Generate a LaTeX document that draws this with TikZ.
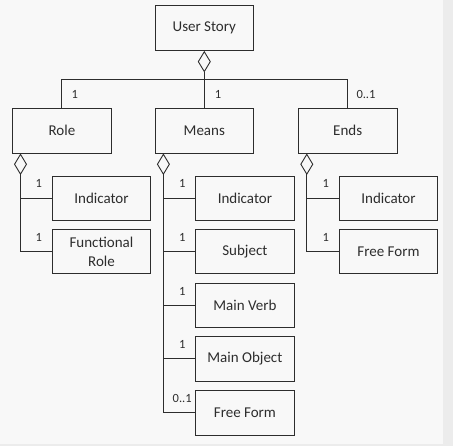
\documentclass[tikz,border=0pt]{standalone}
\usepackage{fontspec}
\setmainfont{Carlito}
\usetikzlibrary{arrows.meta}
\definecolor{umlline}{RGB}{45,45,45}
\definecolor{pagebg}{RGB}{248,248,248}
\definecolor{edgebg}{RGB}{236,236,236}

\begin{document}
\begin{tikzpicture}[x=1pt,y=1pt,yscale=-1,
  part/.style={draw=umlline,line width=0.9pt,minimum width=98.5pt,minimum height=44.5pt,align=center,text=umlline,inner sep=2pt,font=\fontsize{15}{18.5}\selectfont},
  link/.style={draw=umlline,line width=0.9pt},
  agg/.style={link,{Diamond[open,length=21.5pt,width=13pt]}-},
  mult/.style={text=umlline,inner sep=0pt,font=\fontsize{12.5}{14}\selectfont}]
%set diagram size 453 x 446, with the grey page edge
\useasboundingbox (0,0) rectangle (453,446);
\fill[edgebg] (0,0) rectangle (453,446);
\fill[pagebg] (0,0) rectangle (443.3,444);
% Top level
\node[part] (story) at (204.3,28.2) {User Story};
\node[part] (role) at (61.9,130.8) {Role};
\node[part] (means) at (204.3,130.8) {Means};
\node[part] (ends) at (347.7,130.8) {Ends};
\coordinate (bus) at (204.3,79.5);
\draw[agg] (story.south) -- (means.north);
\draw[link] (role.north) |- (bus) -| (ends.north);
\node[mult] at ([xshift=13,yshift=-13.5]role.north) {1};
\node[mult] at ([xshift=13.7,yshift=-13.5]means.north) {1};
\node[mult] at ([xshift=18.3,yshift=-13.5]ends.north) {0..1};
% Role parts
\node[part] (roleind) at (101.5,198.3) {Indicator};
\node[part] (rolefn) at (101.5,251.7) {Functional\\Role};
\coordinate (rolespine) at ([xshift=8.3]role.south west);
\draw[agg] (rolespine) |- (rolefn.west);
\draw[link] (roleind.west) -- (roleind.west -| rolespine);
\node[mult] at ([xshift=-13,yshift=-14.5]roleind.west) {1};
\node[mult] at ([xshift=-13,yshift=-14.5]rolefn.west) {1};
% Means parts
\node[part] (meansind) at (244.9,198.3) {Indicator};
\node[part] (meanssub) at (244.9,251.7) {Subject};
\node[part] (meansverb) at (244.9,305.5) {Main Verb};
\node[part] (meansobj) at (244.9,358.8) {Main Object};
\node[part] (meansfree) at (244.9,412.8) {Free Form};
\coordinate (meansspine) at ([xshift=8.8]means.south west);
\draw[agg] (meansspine) |- (meansfree.west);
\draw[link] (meansind.west) -- (meansind.west -| meansspine);
\draw[link] (meanssub.west) -- (meanssub.west -| meansspine);
\draw[link] (meansverb.west) -- (meansverb.west -| meansspine);
\draw[link] (meansobj.west) -- (meansobj.west -| meansspine);
\node[mult] at ([xshift=-13,yshift=-14.5]meansind.west) {1};
\node[mult] at ([xshift=-13,yshift=-14.5]meanssub.west) {1};
\node[mult] at ([xshift=-13,yshift=-14.5]meansverb.west) {1};
\node[mult] at ([xshift=-13,yshift=-14.5]meansobj.west) {1};
\node[mult] at ([xshift=-13,yshift=-14]meansfree.west) {0..1};
% Ends parts
\node[part] (endsind) at (388.5,198.3) {Indicator};
\node[part] (endsfree) at (388.5,251.7) {Free Form};
\coordinate (endsspine) at ([xshift=8.8]ends.south west);
\draw[agg] (endsspine) |- (endsfree.west);
\draw[link] (endsind.west) -- (endsind.west -| endsspine);
\node[mult] at ([xshift=-13,yshift=-14.5]endsind.west) {1};
\node[mult] at ([xshift=-13,yshift=-14.5]endsfree.west) {1};
\end{tikzpicture}
\end{document}
